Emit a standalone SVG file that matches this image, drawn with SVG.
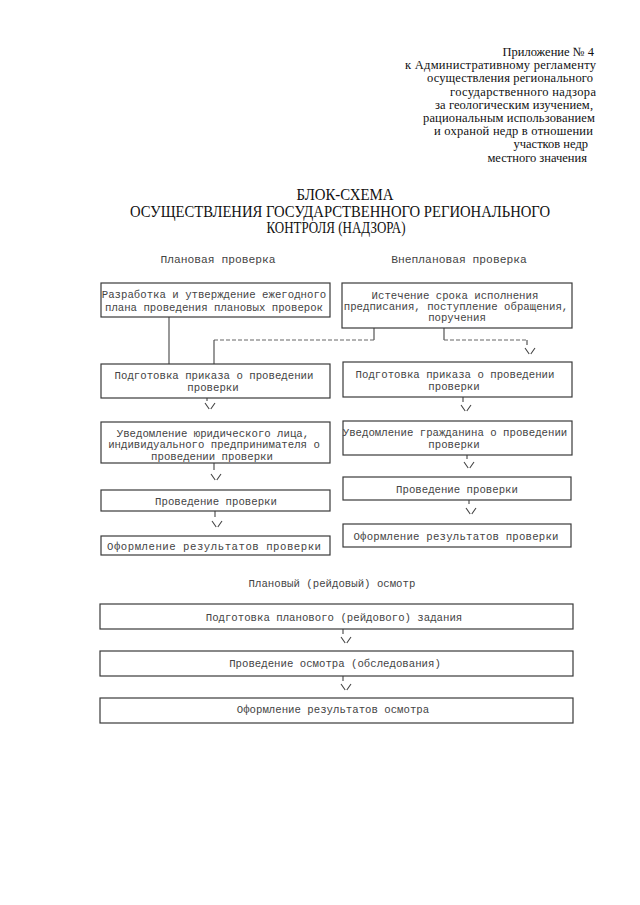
<svg xmlns="http://www.w3.org/2000/svg" xmlns:xlink="http://www.w3.org/1999/xlink" width="640" height="905" viewBox="0 0 640 905">
<style>
.hdr{font-family:"Liberation Serif","Times New Roman",serif;font-size:12.5px;fill:#111}
.ttl{font-family:"Liberation Serif","Times New Roman",serif;font-size:16px;fill:#111;text-anchor:middle}
.m{font-family:"Liberation Mono","Courier New",monospace;font-size:10.7px;fill:#444;text-anchor:middle}
.box{fill:none;stroke:#3a3a3a;stroke-width:1.2}
.ln{fill:none;stroke:#444;stroke-width:1.1}
.dash{fill:none;stroke:#666;stroke-width:1.1;stroke-dasharray:4 2}
.vh{fill:none;stroke:#444;stroke-width:1.1}
</style>
<defs>
<path id="vv" class="vh" d="M-5,0 L-0.8,6 M0.8,6 L5,0"/>
</defs>
<rect width="640" height="905" fill="#fff"/>

<g id="header">
<text class="hdr" x="594" y="56" text-anchor="end">Приложение № 4</text>
<text class="hdr" x="405" y="69.2" textLength="191" lengthAdjust="spacing">к Административному регламенту</text>
<text class="hdr" x="427" y="82.4" textLength="166" lengthAdjust="spacing">осуществления регионального</text>
<text class="hdr" x="450" y="95.6" textLength="146" lengthAdjust="spacing">государственного надзора</text>
<text class="hdr" x="435" y="108.8" textLength="158" lengthAdjust="spacing">за геологическим изучением,</text>
<text class="hdr" x="423" y="122" textLength="172" lengthAdjust="spacing">рациональным использованием</text>
<text class="hdr" x="434" y="135.2" textLength="159" lengthAdjust="spacing">и охраной недр в отношении</text>
<text class="hdr" x="588" y="148.4" text-anchor="end">участков недр</text>
<text class="hdr" x="587" y="161.6" text-anchor="end">местного значения</text>
</g>

<g id="title">
<text class="ttl" x="345" y="200" textLength="97" lengthAdjust="spacingAndGlyphs">БЛОК-СХЕМА</text>
<text class="ttl" x="340" y="216.5" textLength="420" lengthAdjust="spacingAndGlyphs">ОСУЩЕСТВЛЕНИЯ ГОСУДАРСТВЕННОГО РЕГИОНАЛЬНОГО</text>
<text class="ttl" x="336" y="233" textLength="139" lengthAdjust="spacingAndGlyphs">КОНТРОЛЯ (НАДЗОРА)</text>
</g>

<g id="labels">
<text class="m" x="218" y="262.5" style="font-size:11.3px">Плановая проверка</text>
<text class="m" x="459" y="262.5" style="font-size:11.3px">Внеплановая проверка</text>
<text class="m" x="332" y="586.5">Плановый (рейдовый) осмотр</text>
</g>

<g id="connectors">
<line class="ln" x1="169" y1="317" x2="169" y2="364"/>
<path class="ln" d="M374,328 V340"/>
<path class="dash" d="M374,340 H214"/>
<path class="ln" d="M214,340 V364"/>
<path class="ln" d="M444,328 V340"/>
<path class="dash" d="M444,340 H527"/>
<line class="ln" x1="527" y1="340" x2="527" y2="345"/>
<use href="#vv" xlink:href="#vv" x="530" y="348"/>
<line class="ln" x1="207" y1="398" x2="207" y2="401"/>
<use href="#vv" xlink:href="#vv" x="210" y="403"/>
<line class="ln" x1="214" y1="463" x2="214" y2="470"/>
<use href="#vv" xlink:href="#vv" x="216" y="474"/>
<line class="ln" x1="215" y1="511" x2="215" y2="517"/>
<use href="#vv" xlink:href="#vv" x="217" y="521"/>
<line class="ln" x1="463" y1="397" x2="463" y2="402"/>
<use href="#vv" xlink:href="#vv" x="466" y="405"/>
<line class="ln" x1="467" y1="455" x2="467" y2="459"/>
<use href="#vv" xlink:href="#vv" x="469" y="462"/>
<line class="ln" x1="469" y1="500" x2="469" y2="504"/>
<use href="#vv" xlink:href="#vv" x="471" y="508"/>
<line class="ln" x1="343" y1="629" x2="343" y2="634"/>
<use href="#vv" xlink:href="#vv" x="346" y="637"/>
<line class="ln" x1="343" y1="676" x2="343" y2="681"/>
<use href="#vv" xlink:href="#vv" x="346" y="684"/>
</g>

<g id="plan1">
<rect class="box" x="101" y="283" width="229" height="34"/>
<text class="m" x="214" y="297.5">Разработка и утверждение ежегодного</text>
<text class="m" x="214" y="310.5">плана проведения плановых проверок</text>
</g>
<g id="plan2">
<rect class="box" x="101" y="364" width="229" height="34"/>
<text class="m" x="214" y="378.5">Подготовка приказа о проведении</text>
<text class="m" x="213" y="390.5">проверки</text>
</g>
<g id="plan3">
<rect class="box" x="101" y="422" width="229" height="41"/>
<text class="m" x="213" y="436.5">Уведомление юридического лица,</text>
<text class="m" x="214" y="448">индивидуального предпринимателя о</text>
<text class="m" x="212" y="459.5">проведении проверки</text>
</g>
<g id="plan4">
<rect class="box" x="101" y="490" width="229" height="21"/>
<text class="m" x="216" y="504.5">Проведение проверки</text>
</g>
<g id="plan5">
<rect class="box" x="101" y="536" width="229" height="19"/>
<text class="m" x="214" y="549.5" textLength="214" lengthAdjust="spacing">Оформление результатов проверки</text>
</g>

<g id="unplan1">
<rect class="box" x="342" y="283" width="230" height="45"/>
<text class="m" x="455" y="298.5">Истечение срока исполнения</text>
<text class="m" x="456" y="309.5">предписания, поступление обращения,</text>
<text class="m" x="457" y="320.5">поручения</text>
</g>
<g id="unplan2">
<rect class="box" x="343" y="362" width="229" height="35"/>
<text class="m" x="455" y="377.5">Подготовка приказа о проведении</text>
<text class="m" x="454" y="389.5">проверки</text>
</g>
<g id="unplan3">
<rect class="box" x="343" y="421" width="229" height="34"/>
<text class="m" x="455" y="436">Уведомление гражданина о проведении</text>
<text class="m" x="454" y="447.5">проверки</text>
</g>
<g id="unplan4">
<rect class="box" x="343" y="477" width="228" height="23"/>
<text class="m" x="457" y="492.5">Проведение проверки</text>
</g>
<g id="unplan5">
<rect class="box" x="343" y="524" width="228" height="23"/>
<text class="m" x="456" y="539.5" textLength="205" lengthAdjust="spacing">Оформление результатов проверки</text>
</g>

<g id="raid1">
<rect class="box" x="100" y="604" width="473" height="25"/>
<text class="m" x="334" y="620.5">Подготовка планового (рейдового) задания</text>
</g>
<g id="raid2">
<rect class="box" x="100" y="651" width="473" height="25"/>
<text class="m" x="335" y="666.5">Проведение осмотра (обследования)</text>
</g>
<g id="raid3">
<rect class="box" x="100" y="698" width="473" height="25"/>
<text class="m" x="333" y="712.5">Оформление результатов осмотра</text>
</g>
</svg>
